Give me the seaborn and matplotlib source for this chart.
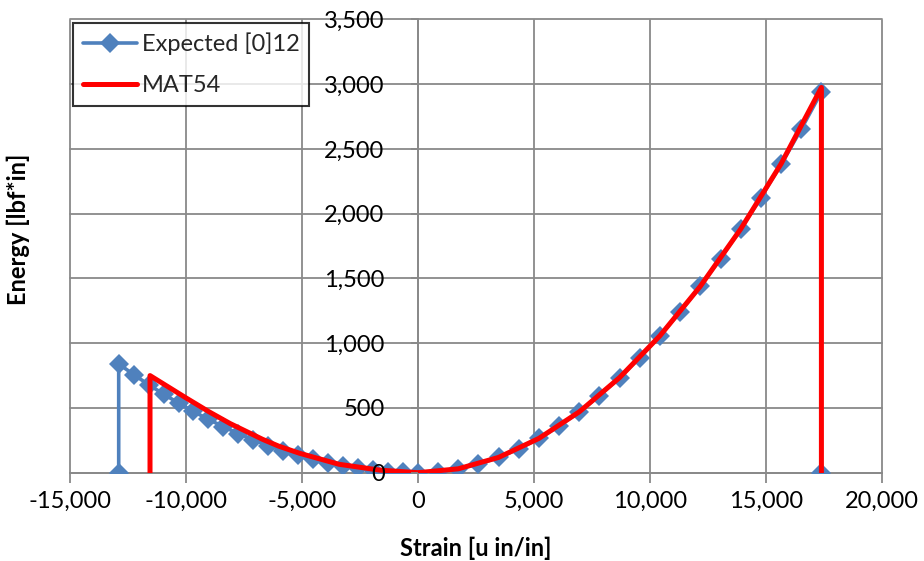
import matplotlib
matplotlib.use("Agg")
import matplotlib.pyplot as plt
import pandas as pd
import seaborn as sns

# Strain energy vs. strain: analytical expectation for a [0]12 laminate and the MAT54 model
exp_strain = [-12900, -12900, -12255, -11610, -10965, -10320, -9675, -9030, -8385, -7740,
              -7095, -6450, -5805, -5160, -4515, -3870, -3225, -2580, -1935, -1290, -645, 0,
              870, 1740, 2610, 3480, 4350, 5220, 6090, 6960, 7830, 8700, 9570, 10440,
              11310, 12180, 13050, 13920, 14790, 15660, 16530, 17400, 17400]
exp_energy = [0, 840, 758, 680, 607, 538, 473, 412, 355, 302, 254, 210, 170, 134, 103, 76,
              53, 34, 19, 8, 2, 0,
              7, 29, 66, 118, 184, 265, 360, 470, 595, 735, 889, 1058, 1242, 1441, 1654,
              1882, 2124, 2381, 2653, 2940, 0]

mat_strain = [-11550, -11550, -10000, -9000, -8100, -6700, -6000, -5100, -3400, -1650, 0,
              1740, 3480, 5220, 6960, 8700, 10440, 12180, 13920, 15660, 17400, 17400]
mat_energy = [0, 750, 578, 470, 380, 258, 205, 150, 65, 20, 0,
              30, 118, 265, 470, 735, 1058, 1440, 1882, 2385, 2975, 0]

x_ticks = [-15000, -10000, -5000, 0, 5000, 10000, 15000, 20000]
y_ticks = [0, 500, 1000, 1500, 2000, 2500, 3000, 3500]

series_names = ["Expected [0]12", "MAT54"]
BLUE = "#4F81BD"
RED = "#FF0000"
GRID = "#898989"

sns.set_theme(style="white")
plt.rcParams["font.family"] = ["Lato", "DejaVu Sans"]

fig, ax = plt.subplots(figsize=(9.24, 5.61), dpi=100)
fig.subplots_adjust(left=70 / 924, right=881.7 / 924, top=1 - 19.5 / 561, bottom=1 - 472.7 / 561)

df_exp = pd.DataFrame({"strain": exp_strain, "energy": exp_energy})
df_mat = pd.DataFrame({"strain": mat_strain, "energy": mat_energy})

sns.lineplot(data=df_exp, x="strain", y="energy", sort=False, estimator=None, ax=ax,
             color=BLUE, linewidth=2.6, marker="D", markersize=10, markeredgewidth=0,
             label=series_names[0], zorder=2)
sns.lineplot(data=df_mat, x="strain", y="energy", sort=False, estimator=None, ax=ax,
             color=RED, linewidth=3.6, label=series_names[1], zorder=2.2)

ax.set_xlim(-15000, 20000)
ax.set_ylim(0, 3500)

# grid drawn underneath the data
for v in x_ticks:
    ax.axvline(v, color=GRID, linewidth=1.3, zorder=0.5, clip_on=False)
for v in y_ticks:
    ax.axhline(v, color=GRID, linewidth=1.3, zorder=0.5, clip_on=False)

ax.set_axisbelow(False)
for side in ["top", "right"]:
    ax.spines[side].set_visible(False)
ax.spines["bottom"].set_color(GRID)
ax.spines["bottom"].set_linewidth(1.3)
ax.spines["bottom"].set_zorder(0.6)
ax.spines["left"].set_position(("data", 0))
ax.spines["left"].set_color(GRID)
ax.spines["left"].set_linewidth(1.3)
ax.spines["left"].set_zorder(0.6)

ax.set_xticks(x_ticks)
ax.set_xticklabels([f"{v:,}" for v in x_ticks])
ax.set_yticks(y_ticks)
ax.set_yticklabels([f"{v:,}" for v in y_ticks])
ax.tick_params(axis="x", direction="out", length=7, width=1.3, color=GRID, pad=6,
               labelsize=17, labelcolor="black", bottom=True)
ax.tick_params(axis="y", direction="out", length=5, width=1.3, color=GRID, pad=19,
               labelsize=17, labelcolor="black", left=True)

ax.set_xlabel("Strain [u in/in]", fontsize=17, fontweight="bold", color="black")
ax.xaxis.label.set_va("center")
ax.xaxis.set_label_coords(0.5, -(548 - 472.7) / 453.2)
ax.set_ylabel("Energy [lbf*in]", fontsize=17, fontweight="bold", color="black")
ax.yaxis.label.set_va("center")
ax.yaxis.set_label_coords((18 - 70) / 811.7, (472.7 - 229) / 453.2)

leg = ax.legend(loc="upper left", bbox_to_anchor=(0.004, 0.992), borderaxespad=0,
                frameon=True, fancybox=False, edgecolor="black", fontsize=17,
                handlelength=2.3, handletextpad=0.2, borderpad=0.4, labelspacing=0.85)
leg.get_frame().set_linewidth(1.5)
leg.set_zorder(5)

fig.savefig("out.png", dpi=100)
